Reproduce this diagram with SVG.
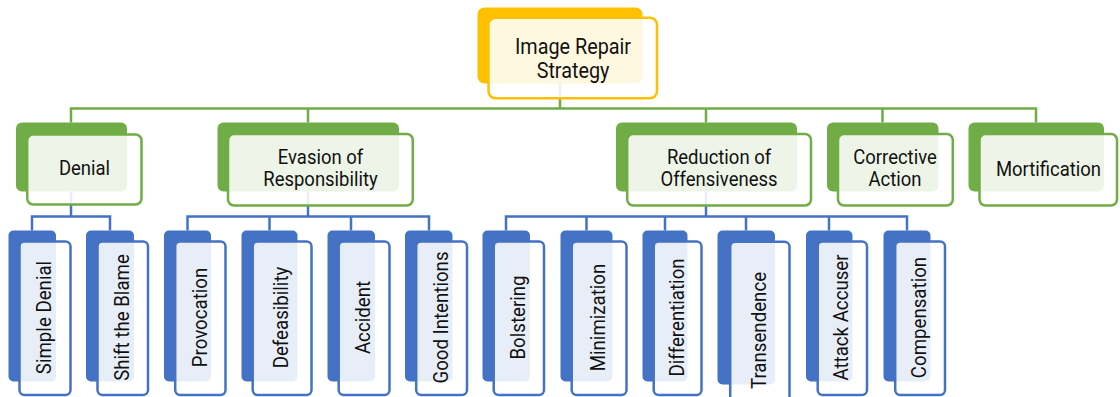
<svg xmlns="http://www.w3.org/2000/svg" width="1120" height="397" viewBox="0 0 1120 397">
<style>
text{font-family:Roboto,"Liberation Sans",sans-serif;fill:#111;text-anchor:middle}
.t0{font-size:22px}
.t1{font-size:21px}
.gb{fill:#70ad47}
.gf{fill:#fff;fill-opacity:.88;stroke:#70ad47;stroke-width:2.5}
.bb{fill:#4472c4}
.bf{fill:#fff;fill-opacity:.88;stroke:#4472c4;stroke-width:2.5}
.yb{fill:#ffc000}
.yf{fill:#fff;fill-opacity:.88;stroke:#ffc000;stroke-width:2.5}
.cg{fill:none;stroke:#70ad47;stroke-width:2.5}
.cb{fill:none;stroke:#4472c4;stroke-width:2.5}
</style>
<rect width="1120" height="397" fill="#fff"/>
<g id="connectors">
<path class="cg" d="M560,83 V108.5 M71,122.5 V108.5 H1036 V122.5 M308,108.5 V122.5 M706,108.5 V122.5 M882.5,108.5 V122.5"/>
<path class="cb" d="M71,191 V216.5 M32,230.5 V216.5 H110 V230.5"/>
<path class="cb" d="M308,191 V216.5 M187.5,230.5 V216.5 H429 V230.5 M269.5,216.5 V230.5 M351,216.5 V230.5"/>
<path class="cb" d="M706,191 V216.5 M506,230.5 V216.5 H907 V230.5 M586.5,216.5 V230.5 M665,216.5 V230.5 M746,216.5 V230.5 M829,216.5 V230.5"/>
</g>
<g id="n-root">
<rect class="yb" x="477.5" y="7.5" width="165" height="76" rx="7"/>
<rect class="yf" x="488.5" y="17.8" width="168.5" height="80.5" rx="7"/>
<text class="t0" transform="translate(573,54) scale(0.9,1)">Image Repair</text>
<text class="t0" transform="translate(573,78) scale(0.9,1)">Strategy</text>
</g>
<g id="n-denial">
<rect class="gb" x="16" y="122.5" width="111" height="69" rx="6"/>
<rect class="gf" x="27.2" y="134.5" width="114.3" height="70" rx="6"/>
<text class="t1" transform="translate(84.5,175) scale(0.88,1)">Denial</text>
</g>
<g id="n-evasion">
<rect class="gb" x="217.5" y="122.5" width="181.5" height="69" rx="6"/>
<rect class="gf" x="228" y="134" width="184.8" height="71.5" rx="6"/>
<text class="t1" transform="translate(320.5,164) scale(0.88,1)">Evasion of</text>
<text class="t1" transform="translate(320.5,186) scale(0.88,1)">Responsibility</text>
</g>
<g id="n-reduction">
<rect class="gb" x="616" y="122.5" width="181" height="69" rx="6"/>
<rect class="gf" x="627.2" y="134" width="183.8" height="71.5" rx="6"/>
<text class="t1" transform="translate(719,164) scale(0.88,1)">Reduction of</text>
<text class="t1" transform="translate(719,186) scale(0.88,1)">Offensiveness</text>
</g>
<g id="n-corrective">
<rect class="gb" x="827" y="122.5" width="111.5" height="69" rx="6"/>
<rect class="gf" x="838" y="134" width="114.8" height="71.5" rx="6"/>
<text class="t1" transform="translate(895,164) scale(0.88,1)">Corrective</text>
<text class="t1" transform="translate(895,186) scale(0.88,1)">Action</text>
</g>
<g id="n-mortification">
<rect class="gb" x="968.5" y="122.5" width="135.5" height="69" rx="6"/>
<rect class="gf" x="979.5" y="134" width="137.5" height="71.5" rx="6"/>
<text class="t1" transform="translate(1048.5,175.5) scale(0.88,1)">Mortification</text>
</g>
<g id="n-simple-denial">
<rect class="bb" x="8.5" y="230.5" width="47.5" height="151" rx="5"/>
<rect class="bf" x="19.5" y="241.5" width="51" height="153.5" rx="5"/>
<text class="t1" transform="translate(45,317.5) rotate(-90) scale(0.89,1)" y="6.3">Simple Denial</text>
</g>
<g id="n-shift-blame">
<rect class="bb" x="86" y="230.5" width="48" height="151" rx="5"/>
<rect class="bf" x="97.5" y="241.5" width="50.5" height="153.5" rx="5"/>
<text class="t1" transform="translate(122.8,317.5) rotate(-90) scale(0.89,1)" y="6.3">Shift the Blame</text>
</g>
<g id="n-provocation">
<rect class="bb" x="164" y="230.5" width="47" height="151" rx="5"/>
<rect class="bf" x="175.2" y="241.5" width="50.3" height="153.5" rx="5"/>
<text class="t1" transform="translate(200.3,317.5) rotate(-90) scale(0.89,1)" y="6.3">Provocation</text>
</g>
<g id="n-defeasibility">
<rect class="bb" x="241.5" y="230.5" width="56" height="151" rx="5"/>
<rect class="bf" x="252.7" y="241.5" width="58.8" height="153.5" rx="5"/>
<text class="t1" transform="translate(282,317.5) rotate(-90) scale(0.89,1)" y="6.3">Defeasibility</text>
</g>
<g id="n-accident">
<rect class="bb" x="327.5" y="230.5" width="47.5" height="151" rx="5"/>
<rect class="bf" x="338.7" y="241.5" width="50.8" height="153.5" rx="5"/>
<text class="t1" transform="translate(364,317.5) rotate(-90) scale(0.89,1)" y="6.3">Accident</text>
</g>
<g id="n-good-intentions">
<rect class="bb" x="405" y="230.5" width="47.5" height="151" rx="5"/>
<rect class="bf" x="416.2" y="241.5" width="50.8" height="153.5" rx="5"/>
<text class="t1" transform="translate(441.5,317.5) rotate(-90) scale(0.89,1)" y="6.3">Good Intentions</text>
</g>
<g id="n-bolstering">
<rect class="bb" x="482.5" y="230.5" width="47.5" height="151" rx="5"/>
<rect class="bf" x="493.7" y="241.5" width="50.3" height="153.5" rx="5"/>
<text class="t1" transform="translate(519,317.5) rotate(-90) scale(0.89,1)" y="6.3">Bolstering</text>
</g>
<g id="n-minimization">
<rect class="bb" x="560.5" y="230.5" width="52" height="151" rx="5"/>
<rect class="bf" x="571.7" y="241.5" width="54.8" height="153.5" rx="5"/>
<text class="t1" transform="translate(599,317.5) rotate(-90) scale(0.89,1)" y="6.3">Minimization</text>
</g>
<g id="n-differentiation">
<rect class="bb" x="642.5" y="230.5" width="45" height="151" rx="5"/>
<rect class="bf" x="653.7" y="241.5" width="47.8" height="153.5" rx="5"/>
<text class="t1" transform="translate(677.5,317.5) rotate(-90) scale(0.89,1)" y="6.3">Differentiation</text>
</g>
<g id="n-transendence">
<rect class="bb" x="717.5" y="230.5" width="57.5" height="154" rx="5"/>
<rect class="bf" x="730.2" y="241.8" width="59.3" height="165" rx="5"/>
<text class="t1" transform="translate(760,330.5) rotate(-90) scale(0.89,1)" y="6.3">Transendence</text>
</g>
<g id="n-attack-accuser">
<rect class="bb" x="806" y="230.5" width="46.5" height="151" rx="5"/>
<rect class="bf" x="817.7" y="241.5" width="49.3" height="153.5" rx="5"/>
<text class="t1" transform="translate(842,317.5) rotate(-90) scale(0.89,1)" y="6.3">Attack Accuser</text>
</g>
<g id="n-compensation">
<rect class="bb" x="883.5" y="230.5" width="47" height="151" rx="5"/>
<rect class="bf" x="895.2" y="241.5" width="49.8" height="153.5" rx="5"/>
<text class="t1" transform="translate(920,317.5) rotate(-90) scale(0.89,1)" y="6.3">Compensation</text>
</g>
</svg>
